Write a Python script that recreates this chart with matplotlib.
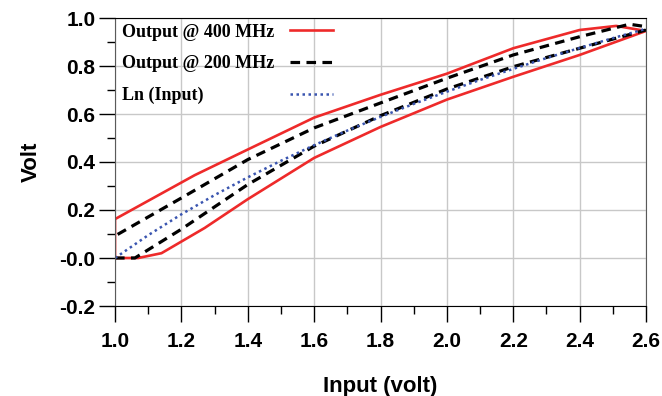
import matplotlib
matplotlib.use("Agg")
import matplotlib.pyplot as plt
from matplotlib.ticker import FixedLocator, MultipleLocator

# output @ 400 MHz: lower branch going up, upper branch coming back (closed loop)
x_400_low = [1.00, 1.07, 1.14, 1.27, 1.40, 1.60, 1.80, 2.00, 2.20, 2.40, 2.60]
y_400_low = [0.000, 0.000, 0.020, 0.125, 0.245, 0.417, 0.546, 0.660, 0.755, 0.846, 0.946]
x_400_up = [2.60, 2.51, 2.40, 2.20, 2.00, 1.80, 1.60, 1.40, 1.24, 1.00, 1.00]
y_400_up = [0.946, 0.967, 0.950, 0.874, 0.768, 0.680, 0.585, 0.452, 0.345, 0.162, 0.000]

# output @ 200 MHz
x_200_low = [1.00, 1.06, 1.20, 1.40, 1.60, 1.80, 2.00, 2.20, 2.40, 2.60]
y_200_low = [0.000, 0.000, 0.120, 0.306, 0.466, 0.593, 0.704, 0.797, 0.874, 0.950]
x_200_up = [2.60, 2.55, 2.40, 2.20, 2.00, 1.80, 1.60, 1.40, 1.20, 1.00]
y_200_up = [0.964, 0.974, 0.922, 0.846, 0.749, 0.646, 0.542, 0.410, 0.250, 0.092]

# ln(input) reference
x_ln = [1.0, 1.1, 1.2, 1.3, 1.4, 1.5, 1.6, 1.7, 1.8, 1.9, 2.0, 2.1, 2.2, 2.3, 2.4, 2.5, 2.6]
y_ln = [0.000, 0.095, 0.182, 0.262, 0.336, 0.405, 0.470, 0.531, 0.588, 0.642,
        0.693, 0.742, 0.788, 0.833, 0.875, 0.916, 0.955]

labels = ["Output @ 400 MHz", "Output @ 200 MHz", "Ln (Input)"]
x_ticks = [1.0, 1.2, 1.4, 1.6, 1.8, 2.0, 2.2, 2.4, 2.6]
x_ticklabels = ["1.0", "1.2", "1.4", "1.6", "1.8", "2.0", "2.2", "2.4", "2.6"]
y_ticks = [-0.2, 0.0, 0.2, 0.4, 0.6, 0.8, 1.0]
y_ticklabels = ["-0.2", "-0.0", "0.2", "0.4", "0.6", "0.8", "1.0"]

RED = "#ee2a2a"
BLUE = "#3a55b0"
styles = [
    dict(color=RED, lw=1.9, ls="-"),
    dict(color="black", lw=2.3, ls=(0, (3.0, 2.0))),
    dict(color=BLUE, lw=1.8, ls=(0, (1, 1.4))),
]

fig = plt.figure(figsize=(6.62, 3.96), dpi=100)
ax = fig.add_axes([115 / 662, 1 - 306 / 396, 531 / 662, 288 / 396])

ax.plot(x_400_low + x_400_up, y_400_low + y_400_up, **styles[0])
ax.plot(x_200_low + x_200_up, y_200_low + y_200_up, **styles[1])
ax.plot(x_ln, y_ln, **styles[2])

ax.set_xlim(1.0, 2.6)
ax.set_ylim(-0.2, 1.0)
ax.xaxis.set_major_locator(FixedLocator(x_ticks))
ax.set_xticklabels(x_ticklabels)
ax.yaxis.set_major_locator(FixedLocator(y_ticks))
ax.set_yticklabels(y_ticklabels)
ax.xaxis.set_minor_locator(MultipleLocator(0.1))
ax.yaxis.set_minor_locator(MultipleLocator(0.1))

ax.grid(True, which="major", color="#c8c8c8", lw=1.0)
ax.set_axisbelow(True)
ax.tick_params(which="major", direction="out", length=11.5, width=1.0, pad=7)
ax.tick_params(which="minor", direction="out", length=6, width=1.0)
ax.tick_params(axis="y", which="major", pad=2.5)
for lbl in ax.get_xticklabels() + ax.get_yticklabels():
    lbl.set_fontfamily("Liberation Sans")
    lbl.set_fontweight("bold")
    lbl.set_fontsize(15)

for side in ["top", "bottom"]:
    ax.spines[side].set_color("black")
for side in ["left", "right"]:
    ax.spines[side].set_color("#5a5a5a")

ax.set_xlabel("Input (volt)", fontsize=16, fontweight="bold",
              fontfamily="Liberation Sans", labelpad=18)
ax.set_ylabel("Volt", fontsize=16, fontweight="bold",
              fontfamily="Liberation Sans", labelpad=13)

# hand-made legend: left-aligned text, handles in one column on the right
text_y = [0.935, 0.825, 0.715]
line_y = [0.958, 0.848, 0.735]
for lab, ty, ly, st in zip(labels, text_y, line_y, styles):
    ax.text(0.013, ty, lab, transform=ax.transAxes, va="baseline", ha="left",
            fontsize=13, fontweight="bold", fontfamily="Liberation Serif")
    ax.plot([0.3296, 0.4105], [ly, ly], transform=ax.transAxes, clip_on=False, **st)

fig.savefig("out.png", dpi=100)
